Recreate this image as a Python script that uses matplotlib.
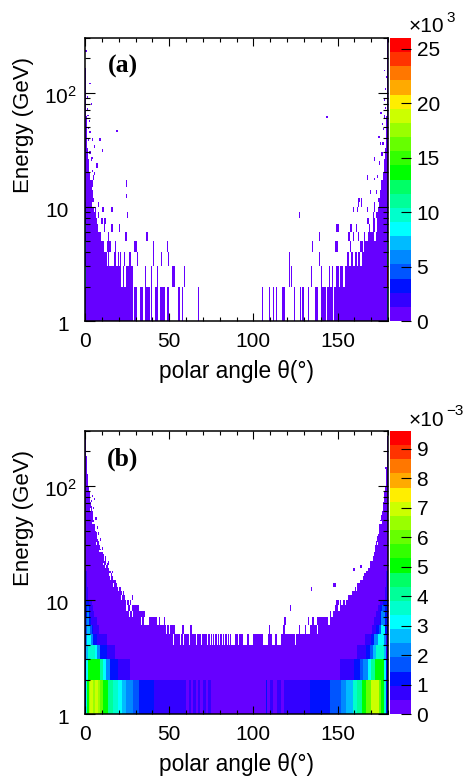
import numpy as np
import matplotlib
matplotlib.use('Agg')
import matplotlib.pyplot as plt
from matplotlib.colors import ListedColormap, BoundaryNorm
from matplotlib.transforms import ScaledTranslation

plt.rcParams['font.family'] = ['Liberation Sans', 'DejaVu Sans']
plt.rcParams['mathtext.default'] = 'regular'

# 20 colour levels of the palette
palette = ['#6600ff', '#3300ff', '#0011ff', '#0055ff', '#0088ff', '#00bbff', '#00ffff',
           '#00ffcc', '#00ff99', '#00ff66', '#00ff00', '#33ff00', '#66ff00', '#99ff00',
           '#ccff00', '#ffee00', '#ffaa00', '#ff7700', '#ff3300', '#ff0000']

# panel (a): filled angle ranges in degrees, one list per 1 GeV energy bin
a_row1 = [(0, 28.5), (29.1, 30.7), (32.1, 33.9), (35.6, 38.6), (39.2, 39.8), (41.6, 43.2), (44.6, 47.5),
          (48.7, 49.9), (55.2, 56.4), (57.8, 58.4), (67.1, 67.7), (105.2, 105.8), (109.3, 109.9),
          (111.7, 112.3), (113.5, 114.1), (117, 118.9), (124.2, 124.8), (127.8, 128.4), (129, 130.1),
          (132.5, 133.1), (136.7, 138.5), (140.2, 143.2), (143.8, 147.4), (148, 154.5), (155, 180)]
a_row2 = [(0, 17.8), (18.2, 21.8), (23, 23.6), (24.8, 28.9), (35.6, 36.2), (39.2, 39.8), (42.8, 43.4),
          (51.7, 53.5), (58.8, 59.4), (121.2, 121.8), (122.4, 123), (134.3, 134.9), (140.2, 140.8),
          (145, 145.6), (146.8, 147.4), (149.7, 150.3), (151.5, 152.7), (154.5, 156.9), (157.5, 180)]
a_row3 = [(0, 13.1), (13.7, 14.3), (17.2, 18.4), (19.6, 20.2), (20.8, 21.4), (23.2, 23.8), (26.7, 27.3),
          (30.3, 30.9), (40.4, 41), (45.1, 45.7), (49.3, 49.9), (121.2, 121.8), (139, 139.6),
          (155.7, 156.3), (158, 159.2), (160.4, 161.6), (162.2, 163.4), (164.6, 180)]
a_row4 = [(0, 11.3), (13.1, 15.4), (17.8, 18.4), (29.7, 30.3), (40.4, 41), (48.7, 49.3), (134.9, 135.5),
          (149.1, 149.7), (156.9, 157.5), (163.4, 165.2), (165.8, 180)]
a_row5 = [(0, 9.5), (13.7, 14.3), (23.8, 25), (36.2, 37.4), (139, 139.6), (156.3, 156.9), (159.2, 159.8),
          (162.2, 162.8), (165.8, 166.4), (168.2, 171.7), (172.9, 180)]
a_row6 = [(0, 7.7), (11.3, 11.9), (15.4, 16.6), (20.2, 20.8), (149.7, 150.3), (157.5, 158.1), (161, 161.6),
          (168.8, 169.4), (171.1, 172.3), (173.5, 180)]
a_row7 = [(0, 7.1), (9.5, 10.7), (11.3, 12.5), (167.6, 168.8), (171.1, 172.3), (173.5, 180)]
a_row8 = [(0, 6.5), (7.7, 8.3), (25, 25.6), (127.2, 127.8), (171.1, 171.7), (172.9, 180)]
a_row9 = [(0, 5.3), (5.9, 6.5), (10.1, 11.3), (15.4, 16.6), (159.2, 159.8), (161.6, 162.2), (167.6, 168.2),
          (171.7, 172.3), (174, 180)]
a_row10 = [(0, 4.2), (7.7, 8.3), (162.2, 162.8), (164, 164.6), (171.7, 172.3), (174.6, 180)]

# panel (a): band edges above 11 GeV with filled width from each side
a_band_edges = [11, 12, 14, 17, 20, 26, 33, 44, 62, 86, 120, 165, 300]
a_left_width = [5.5, 4.5, 4.0, 3.0, 2.4, 1.6, 1.2, 1.2, 0.6, 0.6, 0.6, 0]
a_right_width = [6, 5.0, 4.0, 3.2, 2.4, 1.8, 1.4, 1, 0.8, 0.6, 0.6, 0.6]

# panel (a): isolated cells (angle, low energy, high energy)
a_cells = [(19.2, 45, 47), (25.1, 15, 17), (25.1, 12, 12.9), (3, 118, 122), (3.6, 78, 81), (9, 38, 40),
           (10.5, 30, 32), (5.5, 33, 35), (7, 22, 24), (7.6, 22, 24), (4.4, 38, 40), (2, 38, 40), (3, 29, 31),
           (3.6, 25, 27), (4.5, 15, 17), (4.2, 20, 21), (0.6, 225, 236), (144, 60, 62), (178, 153, 157),
           (179, 135, 139), (178.4, 106, 110), (175.8, 65, 67), (174.5, 40, 42), (175.1, 40, 42),
           (175.4, 35, 37), (171.9, 25, 27), (175, 23, 25), (167.9, 17, 19), (172, 17, 18), (173.9, 18, 19),
           (169.5, 13, 14), (173, 13, 14), (162.6, 11, 12), (164.2, 11, 12),
           (1.6, 70, 73), (1.6, 90, 93), (2.2, 48, 50), (2.6, 55, 57), (1.8, 62, 64), (3, 44, 46),
           (4.2, 26, 27), (5, 17, 19), (5.5, 19, 20), (178, 60, 63), (177.4, 47, 49), (177, 35, 37),
           (176.4, 28, 30), (178, 85, 89), (178.4, 72, 75), (176.8, 52, 54)]

# panel (a): strong first and last columns, values per energy bin from 1 GeV
a_first_col = [2500, 8000, 3000, 7000, 3000, 7000, 3000, 3000, 3000, 1500]
a_last_col = [7000, 25500, 14000, 8000, 3000, 3000, 3000, 3000, 1500, 1500]
a_fill_value = 500

# panel (b): white gaps in the 4-5 GeV bin, filled ranges in the bins above it
b_row4_gaps = [(52.3, 52.9), (56.4, 57), (58.2, 58.8), (61.8, 62.4), (66, 66.6), (69, 69.6), (72.5, 73.1),
               (74.3, 74.9), (75.5, 76), (77, 77.6), (78.5, 79), (80, 80.6), (81.5, 82), (83, 83.5),
               (84.5, 85), (86, 86.6), (87, 89.3), (90.7, 91.3), (93.9, 95.7), (97.2, 98.8), (99.2, 99.8),
               (105.6, 108.8), (111, 113), (114, 115.5), (116, 116.5), (124.8, 125.4)]
b_row5 = [(0, 48), (48.6, 50), (50.6, 53.5), (57.5, 58.5), (62.4, 63.6), (109.3, 109.9), (117.7, 118.9),
          (127.2, 127.8), (130.7, 131.3), (133.7, 137.9), (138.5, 180)]
b_row6 = [(0, 32.7), (33.9, 34.5), (38, 42.8), (44, 44.6), (47, 47.6), (118.3, 119.4), (132.5, 133.3),
          (134.9, 135.9), (137.9, 144.8), (145.6, 180)]
b_row7 = [(0, 26.2), (26.8, 28), (28.6, 34.5), (34.9, 35.5), (145.6, 146.2), (147.4, 148.6), (149.1, 180)]
b_row8 = [(0, 24.4), (25.6, 26.8), (28.5, 31.5), (121.8, 122.4), (149.1, 149.7), (151, 151.5), (152.1, 180)]
b_row9 = [(0, 24.4), (25, 26.2), (27, 27.6), (149.7, 150.3), (151, 152), (153, 154), (155, 180)]

# panel (b): band edges above 10 GeV with filled width from each side
b_band_edges = [10, 11, 12, 13, 14, 15, 16, 17, 18, 19, 20, 22, 24, 26, 28, 30, 33, 36, 39, 42, 46, 50, 55, 60,
                66, 72, 80, 90, 100, 110, 125, 140, 160, 180, 200, 235, 270]
b_left_width = [24, 22, 20.5, 19, 18, 17, 16, 15.5, 14.5, 13.5, 12.8, 11.5, 10.5, 9.7, 9, 8.3, 7.7, 7, 6.5, 6, 5.5,
                5, 4.6, 4.2, 3.6, 3, 2.8, 2.4, 2, 1.8, 1.4, 1.2, 1, 0.6, 0.6, 0.6]
b_right_width = [24, 22, 20, 18.6, 16.6, 15, 14.4, 13, 12, 11, 10.5, 9.2, 8.6, 8, 7.7, 7, 6.7, 6, 5.5, 5.2, 4.6,
                 4, 3.4, 2.8, 2.8, 2.6, 2.4, 1.8, 1.4, 1.2, 1, 0.8, 0.6, 0.6, 0.6, 0.6]

b_cells = [(28.7, 10, 11), (13.7, 19, 21), (11.3, 23, 25), (8.3, 29, 31), (8.1, 37, 39), (5.7, 75, 78),
           (4.4, 79, 82), (159.4, 18, 19), (163.5, 19, 20), (164.1, 19, 20), (148.2, 13, 14), (148.8, 13, 14),
           (134.8, 12, 13), (159.6, 18, 19), (164, 19, 20), (167, 16, 17), (170, 20, 21), (172.5, 27, 29),
           (23, 11, 12), (21, 12, 13), (18.5, 14, 15), (16.4, 17, 18), (14.2, 20, 22), (12.5, 22, 24),
           (10.4, 27, 29), (9.2, 33, 35), (7.6, 42, 44), (6.6, 50, 53), (5, 62, 65), (3.8, 72, 75),
           (160.5, 11, 12), (162, 13, 14), (166.5, 14, 15), (168.5, 18, 19), (171.5, 22, 24), (173, 26, 28),
           (174, 33, 35), (175, 42, 44), (176.6, 55, 58), (177.2, 66, 70), (178, 85, 90), (178.8, 140, 145)]
b_holes = [(20.2, 12, 13), (15, 16, 17), (12.5, 19, 20), (9, 26, 27), (7.4, 34, 37), (4.8, 46, 48),
           (161, 12, 13), (165, 16, 17), (169, 21, 22), (171, 27, 28), (174.5, 38, 40),
           (22, 10, 11), (17, 13, 14), (15.5, 15, 16), (11, 20, 21), (7, 30, 32), (6, 40, 42), (3.4, 60, 63),
           (158, 11, 12), (163, 14, 15), (167, 18, 19), (170.5, 24, 26), (173.5, 30, 32), (175.8, 46, 49)]
b_fill_value = 0.2

# panel (b): coloured runs (start, stop, value in 1e-3) per energy bin from 1 GeV
b_col1 = [(0, 0.6, 1.0), (0.6, 1.2, 2.9), (1.2, 2.4, 4.8), (2.4, 3, 6.3), (3, 4.8, 7.0), (4.8, 6, 6.5), (6, 8, 6.9),
          (8, 9, 6.3), (9, 11, 5.8), (11, 14, 5.0), (14, 17, 4.3), (17, 20, 3.6), (20, 22, 3.1), (22, 24.5, 2.6),
          (24.5, 29, 2.1), (29, 32, 1.6), (32, 41, 1.15), (41, 60, 0.72), (62, 63, 0.72), (64.5, 66, 0.72),
          (67.5, 68.5, 0.72), (70, 72, 0.72), (73.5, 75, 0.72), (107.6, 108.2, 1.15), (110, 111.7, 0.72),
          (114, 116.5, 0.72), (118, 124, 0.72), (124, 134, 0.72), (134, 146, 1.15), (146, 152, 1.6),
          (152, 155, 2.1), (155, 159, 2.6), (159, 161.6, 3.4), (161.6, 164.6, 4.3), (164.6, 167, 5.0),
          (167, 170, 6.0), (170, 174.7, 7.0), (174.7, 176, 6.0), (176, 177.7, 5.0), (177.7, 179, 3.5),
          (179, 180, 1.0)]
b_col2 = [(0, 0.6, 1.0), (0.6, 1.8, 3.0), (1.8, 8.9, 4.9), (8.9, 10.9, 4.0), (10.9, 12.5, 3.0), (12.5, 14.9, 2.3),
          (14.9, 19.8, 1.15), (19.8, 27, 0.72), (151.5, 159.8, 0.72), (159.8, 163.4, 1.15), (163.4, 165.2, 1.6),
          (165.2, 168.2, 2.3), (168.2, 170, 3.1), (170, 172.3, 4.0), (172.3, 177.7, 4.9), (177.7, 178.9, 3.1),
          (178.9, 180, 1.0)]
b_col3 = [(0, 0.6, 0.7), (0.6, 1.6, 2.6), (1.6, 6, 3.7), (6, 7.5, 3.0), (7.5, 9, 2.2), (9, 12.9, 1.15),
          (12.9, 17.8, 0.72), (161.6, 167, 0.72), (167, 169.3, 1.15), (169.3, 171.1, 1.6), (171.1, 172.9, 2.6),
          (172.9, 177.7, 3.7), (177.7, 178.9, 2.6), (178.9, 180, 0.7)]
b_col4 = [(0, 0.6, 0.7), (0.6, 1.2, 2.2), (1.2, 3.5, 3.1), (3.5, 4.7, 2.2), (4.7, 7, 1.15), (7, 12.9, 0.72),
          (166.4, 170, 0.72), (170, 171.7, 1.15), (171.7, 174, 2.0), (174, 177.7, 3.1), (177.7, 178.9, 2.2),
          (178.9, 180, 0.7)]
b_col5 = [(0, 0.6, 0.7), (0.6, 1.2, 1.6), (1.2, 3, 2.8), (3, 4, 1.6), (4, 5, 1.15), (5, 8.5, 0.72),
          (170.5, 172.9, 0.72), (172.9, 174.7, 1.15), (174.7, 175.9, 1.6), (175.9, 178.3, 2.9), (178.3, 180, 1.0)]
b_col6 = [(0, 0.6, 0.7), (0.6, 1.2, 1.6), (1.2, 2.6, 2.2), (2.6, 3.5, 1.15), (3.5, 7.3, 0.72),
          (171.7, 174.9, 0.72), (174.9, 175.9, 1.15), (175.9, 178.3, 2.2), (178.3, 180, 1.0)]
b_col7 = [(0, 1.2, 1.15), (1.2, 2.4, 2.2), (2.4, 3.3, 1.15), (3.3, 5.5, 0.72), (173, 174.9, 0.72),
          (174.9, 176, 1.15), (176, 178.5, 2.0), (178.5, 180, 1.0)]
b_col8 = [(0, 1.2, 1.15), (1.2, 2.4, 1.6), (2.4, 3, 1.15), (3, 4.5, 0.72), (174, 175, 0.72), (175, 176.2, 1.15),
          (176.2, 178.5, 1.6), (178.5, 180, 1.0)]
b_col9 = [(0, 2.4, 1.15), (2.4, 4, 0.72), (175, 177, 0.72), (177, 180, 1.15)]
# runs above 10 GeV (start, stop, low energy, high energy, value)
b_top_runs = [(0, 1.8, 10, 13, 0.72), (0, 1.2, 13, 18, 0.72), (178, 180, 10, 13, 0.72), (178.8, 180, 13, 18, 0.72)]

# cell edges of the histograms
theta_edges = np.linspace(0, 180, 301)
energy_edges = np.arange(1, 301)
theta_mid = (theta_edges[:-1] + theta_edges[1:]) / 2
energy_mid = (energy_edges[:-1] + energy_edges[1:]) / 2


def fill(z, t0, t1, e0, e1, val):
    it = (theta_mid >= t0) & (theta_mid <= t1)
    ie = (energy_mid >= e0) & (energy_mid <= e1)
    z[np.ix_(ie, it)] = val


# panel (a)
za = np.zeros((299, 300))
a_rows = [a_row1, a_row2, a_row3, a_row4, a_row5, a_row6, a_row7, a_row8, a_row9, a_row10]
for i, row in enumerate(a_rows):
    for t0, t1 in row:
        fill(za, t0, t1, i + 1, i + 2, a_fill_value)
for i in range(len(a_left_width)):
    e0, e1 = a_band_edges[i], a_band_edges[i + 1]
    fill(za, 0, a_left_width[i], e0, e1, a_fill_value)
    fill(za, 180 - a_right_width[i], 180, e0, e1, a_fill_value)
for t, e0, e1 in a_cells:
    fill(za, t - 0.3, t + 0.3, e0, e1, a_fill_value)
for i in range(len(a_first_col)):
    za[i, 0] = a_first_col[i]
    za[i, -1] = a_last_col[i]

# panel (b)
zb = np.zeros((299, 300))
fill(zb, 0, 180, 1, 5, b_fill_value)
for t0, t1 in b_row4_gaps:
    fill(zb, t0, t1, 4, 5, 0)
b_rows = [b_row5, b_row6, b_row7, b_row8, b_row9]
for i, row in enumerate(b_rows):
    for t0, t1 in row:
        fill(zb, t0, t1, i + 5, i + 6, b_fill_value)
for i in range(len(b_left_width)):
    e0, e1 = b_band_edges[i], b_band_edges[i + 1]
    fill(zb, 0, b_left_width[i], e0, e1, b_fill_value)
    fill(zb, 180 - b_right_width[i], 180, e0, e1, b_fill_value)
for t, e0, e1 in b_cells:
    fill(zb, t - 0.3, t + 0.3, e0, e1, b_fill_value)
for t, e0, e1 in b_holes:
    fill(zb, t - 0.3, t + 0.3, e0, e1, 0)
b_cols = [b_col1, b_col2, b_col3, b_col4, b_col5, b_col6, b_col7, b_col8, b_col9]
for i, col in enumerate(b_cols):
    for t0, t1, v in col:
        fill(zb, t0, t1, i + 1, i + 2, v)
for t0, t1, e0, e1, v in b_top_runs:
    fill(zb, t0, t1, e0, e1, v)

W, H = 464.0, 777.0
fig = plt.figure(figsize=(4.64, 7.77), dpi=100)
cmap = ListedColormap(palette)
cmap.set_bad('white')


def panel(z, top, bottom, zmax, cticks, tag, power, scale):
    ax = fig.add_axes([85 / W, 1 - bottom / H, 303 / W, (bottom - top) / H])
    norm = BoundaryNorm(np.linspace(0, zmax, 21), 20)
    mesh = ax.pcolormesh(theta_edges, energy_edges, np.ma.masked_equal(z, 0), cmap=cmap, norm=norm,
                         antialiased=False, linewidth=0, rasterized=True)
    ax.set_yscale('log')
    ax.set_xlim(0, 180)
    ax.set_ylim(1, 300)
    ax.set_xticks([0, 50, 100, 150])
    ax.set_xticks(np.arange(0, 181, 10), minor=True)
    ax.set_yticks([1, 10, 100])
    ax.set_yticklabels(['1', '10', '$10^{2}$'])
    ax.set_yticks([2, 3, 4, 5, 6, 7, 8, 9, 20, 30, 40, 50, 60, 70, 80, 90, 200, 300], minor=True)
    ax.set_yticklabels([], minor=True)
    ax.tick_params(axis='x', which='major', direction='in', top=True, length=5.5, width=0.8, labelsize=15, pad=8)
    ax.tick_params(axis='x', which='minor', direction='in', top=True, length=2.7, width=0.8)
    ax.tick_params(axis='y', which='major', direction='in', right=True, length=7, width=0.8, labelsize=15)
    ax.tick_params(axis='y', which='minor', direction='in', right=True, length=3.5, width=0.8)
    # the plain labels sit further from the axis than the one with the exponent
    for tick, pad in zip(ax.yaxis.get_major_ticks(), [11.5, 11.5, 6]):
        tick.set_pad(pad)
    nudge = ScaledTranslation(0, -2.5 / 100, fig.dpi_scale_trans)
    for lab in ax.get_yticklabels():
        lab.set_transform(lab.get_transform() + nudge)
    for s in ax.spines.values():
        s.set_linewidth(1.1)
    ax.set_axisbelow(False)
    fig.text(237 / W, 1 - (bottom + 51) / H, 'polar angle θ(°)', fontsize=16.3, ha='center', va='center')
    fig.text(24 / W, 1 - (top + 87) / H, 'Energy (GeV)', fontsize=16, rotation=90, ha='center', va='center')
    fig.text(123 / W, 1 - (top + 28) / H, tag, family='Liberation Serif', fontweight='bold', fontsize=18.5,
             ha='center', va='center')

    cax = fig.add_axes([390 / W, 1 - bottom / H, 21 / W, (bottom - top) / H])
    cb = fig.colorbar(mesh, cax=cax, spacing='proportional', ticks=[c * scale for c in cticks])
    cb.set_ticklabels([str(c) for c in cticks])
    cb.ax.minorticks_off()
    cb.outline.set_visible(False)
    cb.ax.tick_params(direction='in', length=7, width=0.8, labelsize=15, pad=4, right=True)
    for s in cb.ax.spines.values():
        s.set_visible(False)
    fig.text(409 / W, 1 - (top - 11) / H, '×10', fontsize=15, ha='left', va='center')
    fig.text(446 / W, 1 - (top - 20) / H, power, fontsize=11, ha='left', va='center')


a_ticks = [0, 5, 10, 15, 20, 25]
b_ticks = [0, 1, 2, 3, 4, 5, 6, 7, 8, 9]
panel(za, 38, 321, 26000, a_ticks, '(a)', '3', 1000)
panel(zb, 431, 714, 9.6, b_ticks, '(b)', '−3', 1)

fig.savefig('out.png', dpi=100)
